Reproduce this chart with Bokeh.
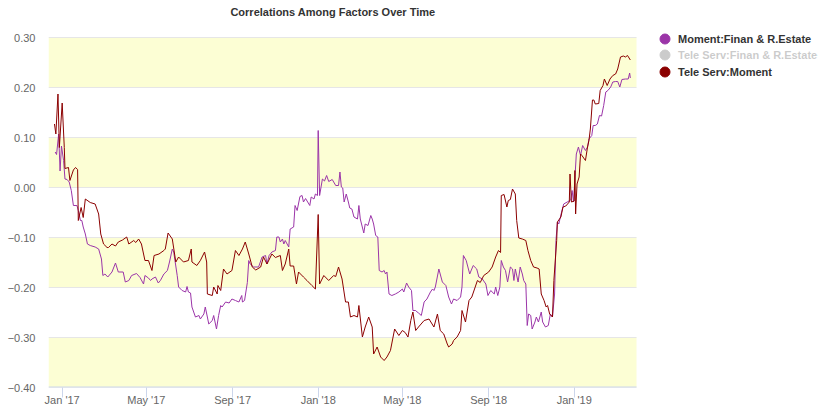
from bokeh.plotting import figure
from bokeh.models import (ColumnDataSource, Range1d, FixedTicker, CustomJSTickFormatter,
                          BoxAnnotation, Legend, LegendItem, Label)
from bokeh.embed import file_html
from bokeh.resources import INLINE
import pandas as pd

title_text = "Correlations Among Factors Over Time"
series_names = ["Moment:Finan & R.Estate", "Tele Serv:Finan & R.Estate", "Tele Serv:Moment"]
series_colors = ["#9B35A8", "#333333", "#8B0000"]
series_hidden = [False, True, False]
base_date = "2017-01-01"

# Moment:Finan & R.Estate  (days after base_date, value)
moment_fin_days = [-10, -8, -5, -3, -1, 2, 4, 7, 10, 13, 16, 21, 23, 26, 28, 30, 33, 36, 40, 47, 52, 56, 58, 61, 65,
                   71, 76, 80, 87, 90, 95, 99, 106, 111, 116, 118, 123, 126, 128, 133, 137, 140, 145, 150, 153, 157,
                   159, 164, 166, 171, 176, 178, 180, 183, 185, 190, 195, 197, 202, 204, 207, 209, 214, 216, 220, 223,
                   226, 228, 233, 238, 242, 247, 252, 256, 257, 260, 264, 266, 268, 273, 280, 285, 290, 292, 295, 299,
                   304, 306, 309, 311, 314, 316, 318, 323, 325, 330, 332, 335, 339, 342, 344, 347, 353, 355, 359, 361,
                   364, 365, 367, 371, 374, 377, 380, 385, 390, 394, 396, 398, 400, 402, 405, 408, 410, 413, 416, 421,
                   423, 425, 430, 432, 436, 440, 442, 444, 447, 450, 452, 456, 459, 461, 463, 466, 470, 475, 480, 485,
                   487, 491, 494, 498, 500, 504, 506, 508, 512, 516, 520, 525, 528, 530, 532, 537, 542, 547, 551, 555,
                   558, 563, 568, 570, 572, 576, 581, 586, 591, 594, 599, 604, 607, 611, 616, 618, 621, 624, 626, 629,
                   632, 635, 639, 642, 644, 646, 650, 653, 656, 658, 661, 663, 665, 668, 670, 674, 676, 679, 683, 685,
                   689, 693, 696, 699, 702, 704, 706, 708, 712, 715, 720, 725, 727, 729, 733, 736, 739, 742, 746, 749,
                   751, 755, 757, 760, 763, 766, 769, 772, 775, 778, 782, 785, 789, 792, 795, 798, 803, 807, 809, 810]
moment_fin_vals = [0.071, 0.066, 0.107, 0.033, 0.083, 0.054, 0.017, 0.016, 0.011, -0.006, -0.036, -0.036, -0.046,
                   -0.066, -0.066, -0.079, -0.093, -0.113, -0.116, -0.119, -0.123, -0.143, -0.176, -0.173, -0.179,
                   -0.169, -0.151, -0.169, -0.169, -0.189, -0.186, -0.176, -0.172, -0.18, -0.193, -0.176, -0.181,
                   -0.186, -0.183, -0.179, -0.191, -0.186, -0.173, -0.166, -0.149, -0.123, -0.129, -0.176, -0.199,
                   -0.206, -0.209, -0.198, -0.209, -0.211, -0.239, -0.259, -0.256, -0.263, -0.253, -0.239, -0.259,
                   -0.273, -0.266, -0.256, -0.283, -0.256, -0.236, -0.239, -0.229, -0.231, -0.223, -0.226, -0.229,
                   -0.216, -0.229, -0.226, -0.19, -0.146, -0.153, -0.159, -0.159, -0.139, -0.136, -0.153, -0.136,
                   -0.129, -0.126, -0.099, -0.099, -0.109, -0.103, -0.113, -0.106, -0.119, -0.083, -0.079, -0.036,
                   -0.046, -0.018, -0.016, -0.029, -0.022, -0.036, -0.019, -0.023, -0.013, -0.016, 0.114, -0.016,
                   0.017, 0.013, 0.024, 0.012, 0.016, 0.004, 0.004, 0.031, 0.001, -0.001, -0.029, -0.013, -0.029,
                   -0.041, -0.043, -0.059, -0.063, -0.036, -0.063, -0.091, -0.073, -0.076, -0.056, -0.063, -0.073,
                   -0.096, -0.099, -0.166, -0.169, -0.166, -0.173, -0.169, -0.213, -0.216, -0.213, -0.209, -0.203,
                   -0.209, -0.191, -0.199, -0.206, -0.246, -0.246, -0.249, -0.251, -0.256, -0.229, -0.223, -0.209,
                   -0.203, -0.206, -0.199, -0.163, -0.189, -0.196, -0.219, -0.233, -0.223, -0.226, -0.219, -0.199,
                   -0.136, -0.146, -0.173, -0.156, -0.163, -0.179, -0.183, -0.193, -0.216, -0.206, -0.213, -0.199,
                   -0.216, -0.199, -0.146, -0.159, -0.166, -0.189, -0.159, -0.163, -0.186, -0.163, -0.189, -0.159,
                   -0.173, -0.186, -0.193, -0.276, -0.253, -0.256, -0.283, -0.269, -0.259, -0.269, -0.249, -0.269,
                   -0.279, -0.276, -0.253, -0.259, -0.213, -0.106, -0.069, -0.073, -0.049, -0.033, -0.029, -0.025,
                   -0.006, -0.029, 0.067, 0.081, 0.064, 0.084, 0.074, 0.081, 0.097, 0.104, 0.124, 0.124, 0.127, 0.144,
                   0.143, 0.164, 0.191, 0.194, 0.201, 0.211, 0.212, 0.212, 0.201, 0.216, 0.217, 0.217, 0.229, 0.219]

# Tele Serv:Moment  (days after base_date, value)
tele_mom_days = [-11, -9, -6, -4, 0, 3, 4, 9, 11, 16, 19, 22, 23, 27, 30, 33, 40, 47, 52, 55, 59, 64, 66, 71, 76, 80,
                 86, 92, 95, 102, 105, 109, 113, 118, 123, 128, 131, 138, 145, 147, 151, 157, 162, 166, 173, 180, 184,
                 185, 192, 197, 203, 206, 207, 214, 216, 221, 222, 226, 230, 235, 242, 247, 252, 257, 261, 266, 271,
                 276, 283, 287, 292, 299, 304, 311, 314, 318, 323, 325, 330, 334, 337, 344, 349, 356, 361, 365, 367,
                 373, 380, 387, 390, 394, 399, 404, 408, 411, 416, 421, 423, 428, 432, 437, 442, 444, 449, 454, 459,
                 463, 468, 474, 480, 485, 489, 493, 497, 500, 504, 508, 516, 523, 530, 535, 539, 544, 549, 551, 556,
                 558, 563, 568, 570, 575, 580, 584, 592, 596, 601, 608, 613, 618, 622, 625, 626, 630, 634, 636, 639,
                 642, 646, 648, 651, 656, 661, 664, 668, 672, 677, 680, 683, 687, 690, 692, 695, 699, 701, 705, 706,
                 711, 714, 718, 723, 724, 726, 730, 731, 732, 734, 737, 739, 741, 746, 749, 751, 753, 756, 758, 760,
                 765, 767, 771, 773, 777, 781, 785, 789, 792, 796, 800, 803, 806, 810]
tele_mom_vals = [0.127, 0.107, 0.187, 0.08, 0.169, 0.08, 0.038, 0.04, 0.014, 0.035, 0.04, 0.036, -0.066, -0.04, -0.06,
                 -0.023, -0.03, -0.033, -0.053, -0.093, -0.113, -0.12, -0.12, -0.113, -0.117, -0.109, -0.105, -0.099,
                 -0.113, -0.106, -0.11, -0.103, -0.113, -0.146, -0.146, -0.166, -0.136, -0.133, -0.126, -0.123,
                 -0.091, -0.103, -0.149, -0.139, -0.149, -0.146, -0.123, -0.149, -0.156, -0.146, -0.129, -0.149,
                 -0.213, -0.216, -0.199, -0.213, -0.196, -0.206, -0.163, -0.173, -0.166, -0.126, -0.136, -0.123,
                 -0.109, -0.133, -0.159, -0.165, -0.159, -0.139, -0.153, -0.133, -0.14, -0.136, -0.166, -0.153,
                 -0.123, -0.157, -0.157, -0.193, -0.169, -0.179, -0.186, -0.196, -0.203, -0.054, -0.193, -0.176,
                 -0.186, -0.176, -0.178, -0.159, -0.183, -0.229, -0.229, -0.259, -0.256, -0.259, -0.236, -0.299,
                 -0.279, -0.259, -0.279, -0.333, -0.319, -0.339, -0.346, -0.339, -0.326, -0.283, -0.296, -0.286,
                 -0.29, -0.299, -0.266, -0.249, -0.286, -0.279, -0.266, -0.263, -0.279, -0.253, -0.286, -0.293,
                 -0.313, -0.319, -0.313, -0.306, -0.299, -0.286, -0.246, -0.269, -0.226, -0.219, -0.186, -0.19,
                 -0.176, -0.169, -0.159, -0.139, -0.126, -0.13, -0.016, -0.014, -0.039, -0.026, -0.024, -0.003,
                 -0.013, -0.066, -0.101, -0.103, -0.106, -0.126, -0.146, -0.159, -0.161, -0.163, -0.213, -0.226,
                 -0.239, -0.236, -0.253, -0.259, -0.186, -0.106, -0.069, -0.059, -0.039, -0.037, -0.029, 0.027,
                 -0.029, -0.027, 0.034, -0.053, 0.007, 0.021, 0.067, 0.064, 0.054, 0.081, 0.094, 0.117, 0.175,
                 0.175, 0.167, 0.168, 0.194, 0.204, 0.217, 0.204, 0.217, 0.224, 0.227, 0.237, 0.261, 0.263, 0.261,
                 0.264, 0.255]

y_ticks = [-0.4, -0.3, -0.2, -0.1, 0.0, 0.1, 0.2, 0.3]
x_tick_dates = ["2017-01-01", "2017-05-01", "2017-09-01", "2018-01-01", "2018-05-01", "2018-09-01", "2019-01-01"]
band_ranges = [(0.2, 0.3), (0.0, 0.1), (-0.2, -0.1), (-0.4, -0.3)]
x_start = "2016-12-12 12:00"
x_end = "2019-03-30 19:00"
y_min, y_max = -0.4, 0.3

# ---- layout / style (pixels) ----
FONT = "Liberation Sans"
BAND_COLOR = "#FCFED4"
GRID_COLOR = "#e6e6e6"
AXIS_COLOR = "#ccd6eb"
W, H = 829, 412
PLOT_LEFT, PLOT_RIGHT, PLOT_TOP, PLOT_BOTTOM = 48, 636, 37, 387   # plot area inside the canvas

base = pd.Timestamp(base_date)
t0, t1 = pd.Timestamp(x_start), pd.Timestamp(x_end)


def to_dates(days):
    return [base + pd.Timedelta(days=d) for d in days]


# the frame covers the whole canvas right of the y labels and above the x labels; the
# data ranges are widened so that the plot area itself sits at PLOT_LEFT..PLOT_RIGHT / PLOT_TOP..PLOT_BOTTOM
frame_w = W - PLOT_LEFT
frame_h = PLOT_BOTTOM
x_hi = t0 + (t1 - t0) * (frame_w / (PLOT_RIGHT - PLOT_LEFT))
y_hi = y_min + (y_max - y_min) * (frame_h / (PLOT_BOTTOM - PLOT_TOP))

p = figure(width=W, height=H, x_axis_type="datetime", output_backend="svg", toolbar_location=None,
           title_location=None, x_range=Range1d(t0, x_hi), y_range=Range1d(y_min, y_hi),
           min_border_left=PLOT_LEFT, min_border_right=0, min_border_top=0,
           min_border_bottom=H - PLOT_BOTTOM)
p.outline_line_color = None
p.background_fill_color = "white"
p.border_fill_color = "white"

t0_ms, t1_ms = t0.value / 1e6, t1.value / 1e6
for b, t in band_ranges:
    p.add_layout(BoxAnnotation(left=t0_ms, right=t1_ms, bottom=b, top=t, fill_color=BAND_COLOR,
                               fill_alpha=1.0, line_alpha=0, level="image"))

p.xgrid.visible = False
p.ygrid.visible = False
grid_src = ColumnDataSource(dict(x0=[t0] * len(y_ticks), x1=[t1] * len(y_ticks), y=y_ticks))
p.segment(x0="x0", x1="x1", y0="y", y1="y", source=grid_src, line_color=GRID_COLOR, line_width=1)
p.segment(x0=[t0], x1=[t1], y0=[y_min], y1=[y_min], line_color=AXIS_COLOR, line_width=2)

p.yaxis.ticker = FixedTicker(ticks=y_ticks)
p.yaxis.formatter = CustomJSTickFormatter(
    code="return (tick < -1e-9 ? '\\u2212' : '') + Math.abs(tick).toFixed(2);")
p.yaxis.axis_line_color = None
p.yaxis.major_tick_line_color = None
p.yaxis.minor_tick_line_color = None
p.yaxis.major_label_standoff = 7
p.yaxis.major_label_text_font = FONT
p.yaxis.major_label_text_font_size = "11px"
p.yaxis.major_label_text_color = "#666666"

x_ticks_ms = [pd.Timestamp(d).value / 1e6 for d in x_tick_dates]
p.xaxis.ticker = FixedTicker(ticks=x_ticks_ms)
p.xaxis.formatter = CustomJSTickFormatter(code="""
const d = new Date(tick);
const m = ["Jan","Feb","Mar","Apr","May","Jun","Jul","Aug","Sep","Oct","Nov","Dec"][d.getUTCMonth()];
return m + " '" + String(d.getUTCFullYear()).slice(2);
""")
p.xaxis.axis_line_color = None
p.xaxis.major_tick_line_color = AXIS_COLOR
p.xaxis.major_tick_out = 10
p.xaxis.major_tick_in = 0
p.xaxis.minor_tick_line_color = None
p.xaxis.major_label_standoff = -4
p.xaxis.major_label_text_font = FONT
p.xaxis.major_label_text_font_size = "11px"
p.xaxis.major_label_text_color = "#666666"

src_mf = ColumnDataSource(dict(x=to_dates(moment_fin_days), y=moment_fin_vals))
src_tm = ColumnDataSource(dict(x=to_dates(tele_mom_days), y=tele_mom_vals))
p.line("x", "y", source=src_mf, line_color=series_colors[0], line_width=1)
p.line("x", "y", source=src_tm, line_color=series_colors[2], line_width=1)

# legend: one single-item legend per series, so each row can be placed exactly.
# keys are circle markers (one NaN row, so nothing is drawn in the plot itself)
KEY_BOX = 25                     # marker legend glyph diameter = 0.4 * box
leg_key_cx = 665                 # canvas x of key centres
leg_row_cy = [38.3, 55.0, 71.7]  # canvas y of row centres
legends = []
for name, c, hidden, cy in zip(series_names, series_colors, series_hidden, leg_row_cy):
    r = p.scatter(x=[float("nan")], y=[float("nan")], marker="circle", size=10,
                  fill_color=c, line_color=c)
    r.visible = not hidden
    vx = leg_key_cx - KEY_BOX / 2 - PLOT_LEFT
    vy = PLOT_BOTTOM - KEY_BOX - (cy - KEY_BOX / 2)
    lg = Legend(items=[LegendItem(label=name, renderers=[r])], location=(round(vx), round(vy)),
                orientation="vertical", glyph_width=KEY_BOX, glyph_height=KEY_BOX, label_height=KEY_BOX,
                label_standoff=1, padding=0, margin=0, click_policy="hide",
                border_line_color=None, background_fill_alpha=0,
                label_text_font=FONT, label_text_font_style="bold", label_text_font_size="11px",
                label_text_color="#333333", inactive_fill_color="white", inactive_fill_alpha=0.75)
    legends.append((hidden, lg))
# hidden (greyed) entry first, so its grey overlay never covers the neighbouring rows
for hidden, lg in sorted(legends, key=lambda t: not t[0]):
    p.add_layout(lg)

title_cx, title_cy = 332.5, 11.5   # canvas pixels
p.add_layout(Label(x=title_cx - PLOT_LEFT, y=PLOT_BOTTOM - title_cy, x_units="screen", y_units="screen",
                   text=title_text, text_align="center", text_baseline="middle", text_font=FONT,
                   text_font_style="bold", text_font_size="11px", text_color="#333333"))

open("out.html", "w", encoding="utf-8").write(file_html(p, INLINE))
